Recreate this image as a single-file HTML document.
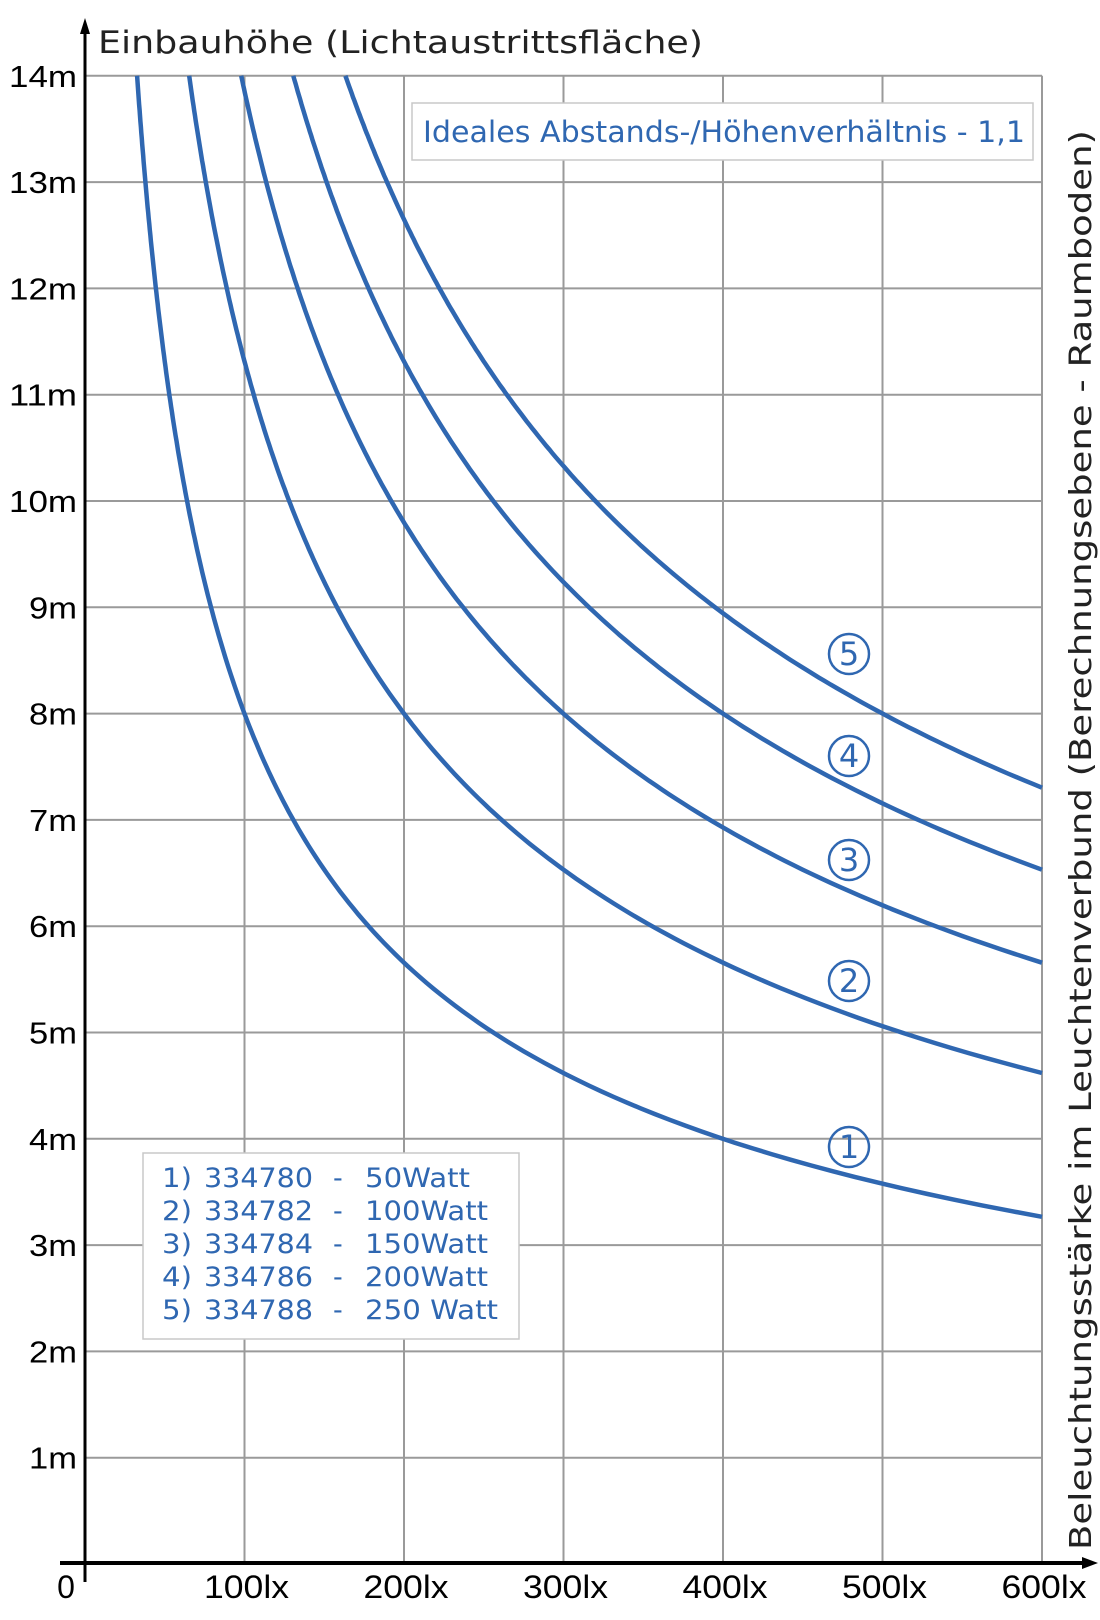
<!DOCTYPE html>
<html><head><meta charset="utf-8"><style>
html,body{margin:0;padding:0;background:#fff}
svg{display:block}
</style></head><body>
<svg id="s" width="1100" height="1620" viewBox="0 0 1100 1620" xmlns="http://www.w3.org/2000/svg" font-family="Liberation Sans, DejaVu Sans, sans-serif">
<g id="grid" stroke="#9a9a9a" stroke-width="2"></g>
<g id="curves" fill="none" stroke="#2f67b1" stroke-width="4.5"></g>
<line x1="85" y1="1582" x2="85" y2="30" stroke="#000" stroke-width="3"/>
<polygon points="85,18 80,34 90,34" fill="#000"/>
<line x1="60" y1="1563" x2="1085" y2="1563" stroke="#000" stroke-width="4"/>
<polygon points="1098,1563 1082,1557 1082,1569" fill="#000"/>
<text x="98" y="53" font-family="DejaVu Sans, sans-serif" font-size="31" fill="#222" textLength="605" lengthAdjust="spacingAndGlyphs">Einbauhöhe (Lichtaustrittsfläche)</text>
<g id="ylab" font-size="31" fill="#000" text-anchor="end"></g>
<g id="xlab" font-size="32" fill="#000" text-anchor="middle"></g>
<text transform="translate(1091,1550) rotate(-90)" font-family="DejaVu Sans, sans-serif" font-size="30" fill="#222" textLength="1420" lengthAdjust="spacingAndGlyphs">Beleuchtungsstärke im Leuchtenverbund (Berechnungsebene - Raumboden)</text>
<rect x="412" y="103" width="621" height="57" fill="#fff" stroke="#c8c8c8" stroke-width="1.5"/>
<text x="423" y="142" font-family="DejaVu Sans, sans-serif" font-size="29" fill="#2f67b1" textLength="602" lengthAdjust="spacingAndGlyphs">Ideales Abstands-/Höhenverhältnis  -  1,1</text>
<rect x="143" y="1153" width="376" height="186" fill="#fff" stroke="#c8c8c8" stroke-width="1.5"/>
<g font-family="DejaVu Sans, sans-serif" font-size="27" fill="#2f67b1">
<text x="162" y="1187" textLength="30" lengthAdjust="spacingAndGlyphs">1)</text><text x="204" y="1187" textLength="109" lengthAdjust="spacingAndGlyphs">334780</text><text x="333" y="1187">-</text><text x="365" y="1187" textLength="105" lengthAdjust="spacingAndGlyphs">50Watt</text>
<text x="162" y="1220" textLength="30" lengthAdjust="spacingAndGlyphs">2)</text><text x="204" y="1220" textLength="109" lengthAdjust="spacingAndGlyphs">334782</text><text x="333" y="1220">-</text><text x="365" y="1220" textLength="123" lengthAdjust="spacingAndGlyphs">100Watt</text>
<text x="162" y="1253" textLength="30" lengthAdjust="spacingAndGlyphs">3)</text><text x="204" y="1253" textLength="109" lengthAdjust="spacingAndGlyphs">334784</text><text x="333" y="1253">-</text><text x="365" y="1253" textLength="123" lengthAdjust="spacingAndGlyphs">150Watt</text>
<text x="162" y="1286" textLength="30" lengthAdjust="spacingAndGlyphs">4)</text><text x="204" y="1286" textLength="109" lengthAdjust="spacingAndGlyphs">334786</text><text x="333" y="1286">-</text><text x="365" y="1286" textLength="123" lengthAdjust="spacingAndGlyphs">200Watt</text>
<text x="162" y="1319" textLength="30" lengthAdjust="spacingAndGlyphs">5)</text><text x="204" y="1319" textLength="109" lengthAdjust="spacingAndGlyphs">334788</text><text x="333" y="1319">-</text><text x="365" y="1319" textLength="133" lengthAdjust="spacingAndGlyphs">250 Watt</text>
</g>
<g id="circ" fill="none" stroke="#2f67b1" stroke-width="2.5"></g>
<g id="circt" font-family="DejaVu Sans, sans-serif" font-size="32" fill="#2f67b1" text-anchor="middle"></g>
</svg>
<script>
var NS="http://www.w3.org/2000/svg";
function el(p,t,a,txt){var e=document.createElementNS(NS,t);for(var k in a)e.setAttribute(k,a[k]);if(txt!=null)e.textContent=txt;document.getElementById(p).appendChild(e);}
var X=function(E){return 85+E*1.595}, Y=function(h){return 1564-h*106.3};
for(var h=1;h<=14;h++){el("grid","line",{x1:85,x2:1042,y1:Y(h),y2:Y(h)});el("ylab","text",{x:77,y:Y(h)+11,textLength:(h>=10?68:48),lengthAdjust:"spacingAndGlyphs"},h+"m");}
for(var e=1;e<=6;e++){el("grid","line",{x1:X(e*100),x2:X(e*100),y1:Y(14),y2:1563});el("xlab","text",{x:X(e*100)+2,y:1598,textLength:85,lengthAdjust:"spacingAndGlyphs"},e*100+"lx");}
el("xlab","text",{x:66,y:1598},"0");
for(var n=1;n<=5;n++){var k=6400*n,hmin=Math.sqrt(k/600),d="";
 for(var i=0;i<=200;i++){var hh=14-(14-hmin)*i/200,E=k/(hh*hh);d+=(i?"L":"M")+X(E).toFixed(1)+","+Y(hh).toFixed(1);}
 el("curves","path",{d:d});}
var cy=[1147,981,860,756,654];
for(var n=0;n<5;n++){el("circ","circle",{cx:849,cy:cy[n],r:20});el("circt","text",{x:849,y:cy[n]+11},String(n+1));}
</script>
</body></html>
